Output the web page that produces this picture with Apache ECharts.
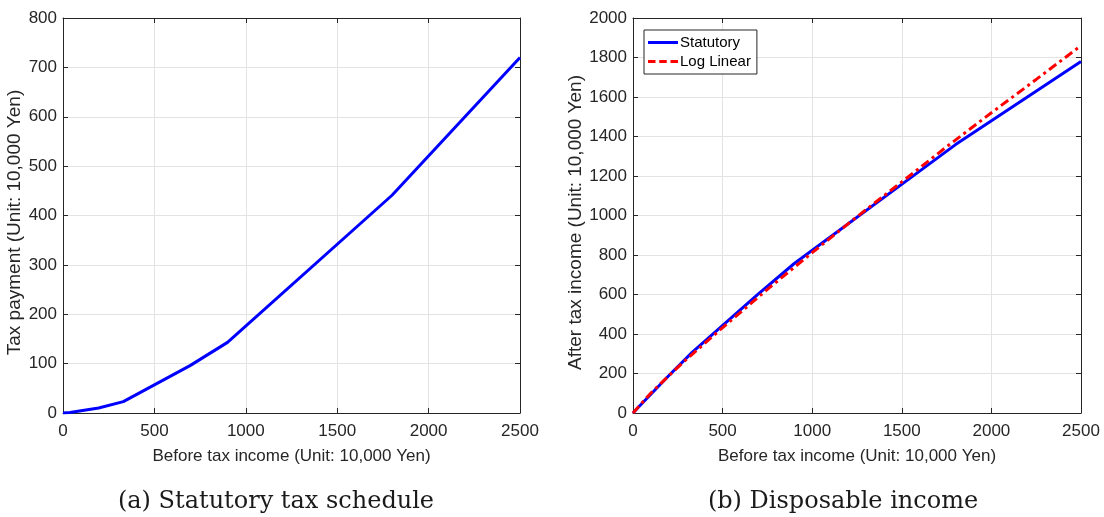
<!DOCTYPE html>
<html><head><meta charset="utf-8">
<script src="https://cdn.jsdelivr.net/npm/echarts@6/dist/echarts.min.js"></script>
<style>html,body{margin:0;padding:0;background:#fff}#c{width:1104px;height:517px}</style>
</head><body><div id="c"></div>
<script>
// Panel (a): statutory tax schedule (kink points)
const taxIncome = [0, 38, 195, 330, 695, 900, 1800, 2500];
const taxPayment = [0, 1, 10, 23, 96, 143, 441, 720];
// Panel (b): disposable income
const statIncome = [0, 38, 195, 330, 695, 900, 1800, 2500];
const statAfter = [0, 37, 185, 307, 599, 757, 1359, 1780];
const logIncome = [0, 100, 200, 300, 500, 750, 1000, 1250, 1500, 1750, 2000, 2250, 2500];
const logAfter = [0, 101, 189, 273, 432, 626, 812, 994, 1170, 1348, 1520, 1689, 1860];
const captions = ['(a) Statutory tax schedule', '(b) Disposable income'];
const seriesNames = ['Statutory', 'Log Linear'];

const FONT = '"Liberation Sans", Arial, sans-serif';
const AX = '#262626';
const pair = (xs, ys) => xs.map((x, i) => [x, ys[i]]);
const plain = v => String(v);

function xAxes(grid) {
  return [{
    type: 'value', gridIndex: grid, min: 0, max: 2500, interval: 500,
    name: 'Before tax income (Unit: 10,000 Yen)', nameLocation: 'middle', nameGap: 35,
    nameTextStyle: {fontFamily: FONT, fontSize: 17, color: AX},
    axisLine: {show: true, onZero: false, lineStyle: {color: AX, width: 1}},
    axisTick: {show: true, inside: true, length: 5, lineStyle: {color: AX}},
    axisLabel: {fontFamily: FONT, fontSize: 17, color: AX, margin: 10, formatter: plain},
    splitLine: {show: true, lineStyle: {color: '#e3e3e3', width: 1}}
  }, {
    type: 'value', gridIndex: grid, position: 'top', min: 0, max: 2500, interval: 500,
    axisLine: {show: true, onZero: false, lineStyle: {color: AX, width: 1}},
    axisTick: {show: true, inside: true, length: 5, lineStyle: {color: AX}},
    axisLabel: {show: false}, splitLine: {show: false}
  }];
}
function yAxes(grid, max, interval, name, gap) {
  return [{
    type: 'value', gridIndex: grid, min: 0, max: max, interval: interval,
    name: name, nameLocation: 'middle', nameGap: gap, nameRotate: 90,
    nameTextStyle: {fontFamily: FONT, fontSize: 19, color: AX, padding: [0, 14, 0, 0]},
    axisLine: {show: true, onZero: false, lineStyle: {color: AX, width: 1}},
    axisTick: {show: true, inside: true, length: 5, lineStyle: {color: AX}},
    axisLabel: {fontFamily: FONT, fontSize: 17, color: AX, margin: 6, formatter: plain},
    splitLine: {show: true, lineStyle: {color: '#e3e3e3', width: 1}}
  }, {
    type: 'value', gridIndex: grid, position: 'right', min: 0, max: max, interval: interval,
    axisLine: {show: true, onZero: false, lineStyle: {color: AX, width: 1}},
    axisTick: {show: true, inside: true, length: 5, lineStyle: {color: AX}},
    axisLabel: {show: false}, splitLine: {show: false}
  }];
}

const chart = echarts.init(document.getElementById('c'));
chart.setOption({
  animation: false,
  backgroundColor: '#fff',
  grid: [
    {left: 63, top: 18, width: 457, height: 395},
    {left: 633, top: 18, width: 448, height: 395}
  ],
  xAxis: [...xAxes(0), ...xAxes(1)],
  yAxis: [...yAxes(0, 800, 100, 'Tax payment (Unit: 10,000 Yen)', 29),
          ...yAxes(1, 2000, 200, 'After tax income (Unit: 10,000 Yen)', 39)],
  title: [
    {text: captions[0], left: 271, top: 485, textAlign: 'center',
     textStyle: {fontFamily: '"DejaVu Serif", serif', fontSize: 24, fontWeight: 'normal', color: '#1a1a1a'}},
    {text: captions[1], left: 838, top: 485, textAlign: 'center',
     textStyle: {fontFamily: '"DejaVu Serif", serif', fontSize: 24, fontWeight: 'normal', color: '#1a1a1a'}}
  ],
  legend: {
    left: 644, top: 30, orient: 'vertical',
    data: [
      {name: seriesNames[0], icon: 'path://M0,0H30V3H0Z'},
      {name: seriesNames[1], icon: 'path://M0,0H7.5V3H0Z M11.25,0H18.75V3H11.25Z M22.5,0H30V3H22.5Z'}
    ],
    itemWidth: 30, itemHeight: 3, itemGap: 2,
    padding: [4, 6, 4, 4],
    borderColor: AX, borderWidth: 1, backgroundColor: '#fff',
    textStyle: {fontFamily: FONT, fontSize: 15, color: '#000', lineHeight: 17, padding: [0, 0, 0, -3]}
  },
  series: [
    {name: 'Tax', type: 'line', xAxisIndex: 0, yAxisIndex: 0, data: pair(taxIncome, taxPayment),
     symbol: 'none', lineStyle: {color: '#0000ff', width: 3}, itemStyle: {color: '#0000ff'}},
    {name: seriesNames[0], type: 'line', xAxisIndex: 2, yAxisIndex: 2, data: pair(statIncome, statAfter),
     symbol: 'none', lineStyle: {color: '#0000ff', width: 3}, itemStyle: {color: '#0000ff'}},
    {name: seriesNames[1], type: 'line', xAxisIndex: 2, yAxisIndex: 2, data: pair(logIncome, logAfter),
     symbol: 'none', lineStyle: {color: '#ff0000', width: 3, type: [9, 4, 3, 4]}, itemStyle: {color: '#ff0000'}}
  ]
});
</script></body></html>
